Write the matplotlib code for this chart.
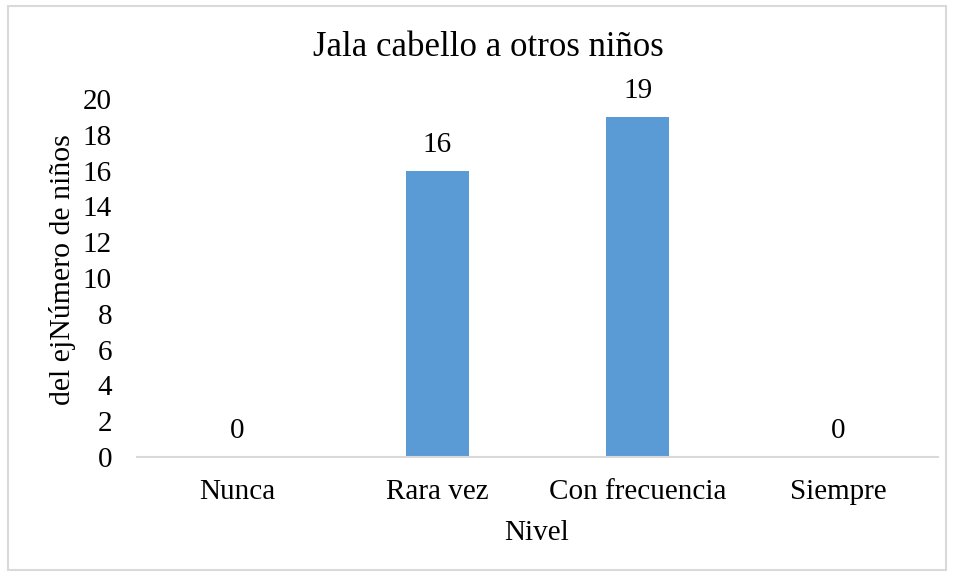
import matplotlib
matplotlib.use("Agg")
import matplotlib.pyplot as plt
from matplotlib.patches import Rectangle

categories = ["Nunca", "Rara vez", "Con frecuencia", "Siempre"]
values = [0, 16, 19, 0]
yticks = [0, 2, 4, 6, 8, 10, 12, 14, 16, 18, 20]

plt.rcParams['font.family'] = ['Liberation Serif', 'DejaVu Serif']

W, H = 955, 576
FS = 21
fig = plt.figure(figsize=(W / 100, H / 100), dpi=100)
fig.patch.set_facecolor('white')
fig.add_artist(Rectangle((8 / W, 6 / H), (946 - 8) / W, (570 - 6) / H,
                         transform=fig.transFigure, fill=False,
                         edgecolor='#D9D9D9', linewidth=1.5))

ax = fig.add_axes([137 / W, 1 - 457 / H, (938 - 137) / W, (457 - 99) / H])
x = range(len(categories))
bars = ax.bar(x, values, width=0.315, color='#5B9BD5')
ax.set_xlim(-0.5, len(categories) - 0.5)
ax.set_ylim(0, 20)
ax.set_yticks(yticks)
ax.set_xticks(list(x))
ax.set_xticklabels(categories)
ax.tick_params(axis='y', length=0, labelsize=FS, pad=18)
ax.tick_params(axis='x', length=0, labelsize=FS, pad=16)
for s in ['top', 'right', 'left']:
    ax.spines[s].set_visible(False)
ax.spines['bottom'].set_color('#D9D9D9')
ax.spines['bottom'].set_linewidth(1.5)

for xi, v in zip(x, values):
    ax.annotate(str(v), (xi, v), xytext=(0, 9), textcoords='offset points',
                ha='center', va='bottom', fontsize=FS)

fig.text(537 / W, 1 - 533 / H, "Nivel", ha='center', va='center', fontsize=FS)
fig.text(62 / W, 1 - 270 / H, "del ejNúmero de niños", rotation=90,
         ha='center', va='center', fontsize=21.5)
fig.text(488 / W, 1 - 47 / H, "Jala cabello a otros niños",
         ha='center', va='center', fontsize=25)

fig.savefig("out.png", dpi=100)
